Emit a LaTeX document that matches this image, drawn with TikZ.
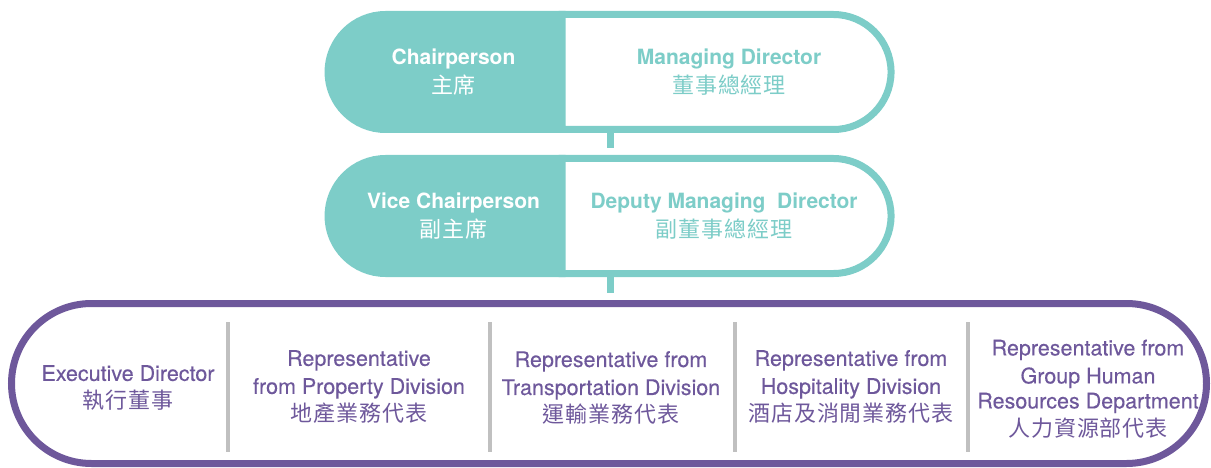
\documentclass[tikz,border=0pt]{standalone}
\usepackage{fontspec}
\setmainfont{TeX Gyre Heros}
\newfontfamily\memberfont[FakeBold=0.3]{TeX Gyre Heros}
\newfontfamily\cjk[LetterSpace=4]{Noto Sans CJK TC}
\usetikzlibrary{positioning, shapes.misc}
\definecolor{boardteal}{RGB}{125,205,200}
\definecolor{boardpurple}{RGB}{110,88,155}
\definecolor{rulegrey}{RGB}{192,192,192}
\newcommand{\zh}[1]{{\normalfont\cjk\fontsize{22}{29}\selectfont #1}}

\begin{document}
\begin{tikzpicture}[x=1pt, y=-1pt,
  half/.style={rounded rectangle, draw=boardteal, line width=7pt, minimum height=115pt, inner sep=0pt, align=center, font=\fontsize{21}{29}\selectfont\bfseries},
  post/.style={half, fill=boardteal, text=white, rounded rectangle right arc=none, minimum width=234pt},
  title/.style={half, fill=white, text=boardteal, rounded rectangle left arc=none, minimum width=329pt},
  link/.style={draw=boardteal, line width=7pt, shorten >=7pt},
  member/.style={align=center, text=boardpurple, font=\memberfont\fontsize{21.5}{28}\selectfont}]
\useasboundingbox (0,0) rectangle (1211,468);
\coordinate (trunk) at (610.5,0);

% top two rows
\node [post] (chair) at (447.5,72) {\hspace{12pt}Chairperson\\\hspace{12pt}\zh{主席}};
\node [title, right=-7pt of chair] (md) {\hspace{10pt}Managing Director\\\hspace{10pt}\zh{董事總經理}};
\node [post, below=22pt of chair] (vchair) {\hspace{12pt}Vice Chairperson\\\hspace{12pt}\zh{副主席}};
\node [title, right=-7pt of vchair] (dmd) {Deputy Managing\ \ Director\\\zh{副董事總經理}};

% board members
\node [rounded rectangle, draw=boardpurple, line width=7pt, minimum width=1195pt, minimum height=160pt, inner sep=0pt] (board) at (609,383.5) {};
\draw[link] (md.south -| trunk) -- (dmd.north -| trunk);
\draw[link] (dmd.south -| trunk) -- (board.north -| trunk);
\foreach \x in {228,490,735,968}
  \draw[rulegrey, line width=4pt] (\x,322) -- (\x,452);

\node [member] (exec) at (128,388) {Executive Director\\\zh{執行董事}};
\node [member] (property) at (359,387) {Representative\\from Property Division\\\zh{地產業務代表}};
\node [member] (transport) at (611,388) {Representative from\\Transportation Division\\\zh{運輸業務代表}};
\node [member] (hospitality) at (851,387) {Representative from\\Hospitality Division\\\zh{酒店及消閒業務代表}};
\node [member] (hr) at (1088,389) {Representative from\\Group Human\\[-3pt]Resources Department\\\zh{人力資源部代表}};
\end{tikzpicture}
\end{document}
